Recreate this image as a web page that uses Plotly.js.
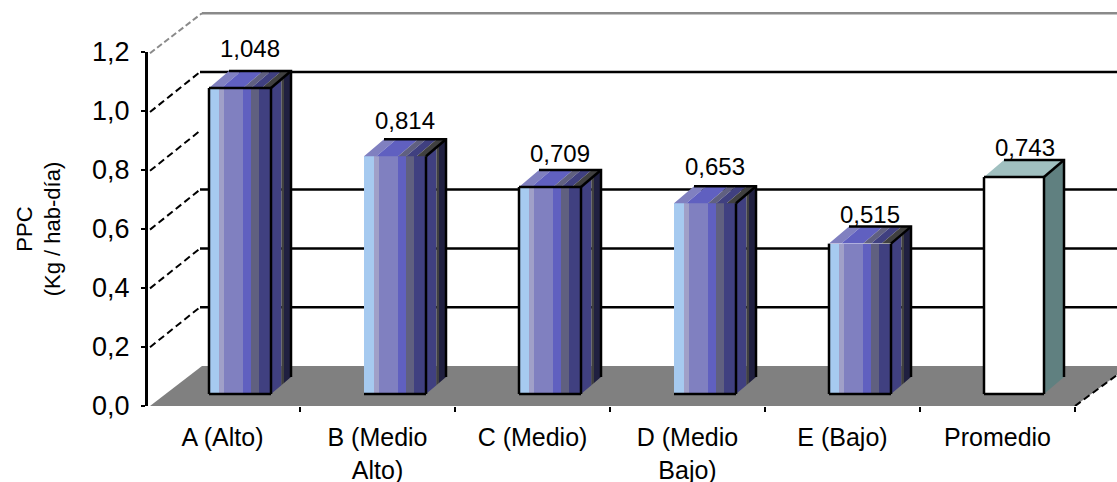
<!DOCTYPE html>
<html><head><meta charset="utf-8">
<script src="https://cdn.plot.ly/plotly-3.0.1.min.js"></script>
<style>html,body{margin:0;padding:0;background:#fff;overflow:hidden}#c{width:1117px;height:482px}</style>
</head><body><div id="c"></div>
<script>
const categories = ['A (Alto)', 'B (Medio<br>Alto)', 'C (Medio)', 'D (Medio<br>Bajo)', 'E (Bajo)', 'Promedio'];
const values = [1.048, 0.814, 0.709, 0.653, 0.515, 0.743];
const wallTicks = [0, 0.2, 0.4, 0.6, 0.8, 1.0, 1.2];
const backGrid = [0.2, 0.4, 0.6, 1.0];
const yTitle = 'PPC<br>(Kg / hab-día)';

// pixel geometry of the fake 3D projection
const W = 1117, H = 482, PLOT_B = 406, SLOT = 155, SLOT0 = 222.5;
const WALL = 294, FRONT = 292, FLOOR_LIFT = 12;
const DX = v => v / SLOT, DYW = v => v / WALL, DYF = v => v / FRONT;
const xMin = -SLOT0 / SLOT, xMax = (W - SLOT0) / SLOT;
const wallX = -0.5, backDx = DX(55), backDy = DYW(40);

const strips = [[0, .16, '#A6CAF0'], [.16, .24, '#A0A0C8'], [.24, .55, '#8080C0'], [.55, .68, '#6060C0'], [.68, .81, '#606080'], [.81, 1, '#404080']];
const topColors = ['#8080C0', '#6060C0', '#606080', '#404080', '#404040'];
const topStops = [0, .2, .55, .68, .85, 1];
const sideStripes = [[0, .52, '#404080'], [.52, .65, '#404040'], [.65, 1, '#202040']];
const leftEdge = [1, 0, 1, 0, 1, 1], topEdge = [1, 0, 1, 0, 0, 1];
const labelLift = [37, 33, 31, 34, 27, 27];
const shift = DX(17.5), sideX = DX(20), sideY = DYF(17);
const widthOf = i => DX(i === 5 ? 60 : 62);
const left = i => i + shift - widthOf(i) / 2 - (i === 5 ? DX(1) : 0);
const skip = {hoverinfo: 'skip', showlegend: false};

const traces = [];
// floor
traces.push({type: 'scatter', mode: 'lines', fill: 'toself', fillcolor: '#808080', line: {width: 0}, ...skip,
  x: [wallX + DX(5), wallX + backDx + DX(2), xMax, xMax, wallX + 6], y: [0, backDy, backDy, DYW(31), 0]});
// back wall gridlines
traces.push({type: 'scatter', mode: 'lines', line: {color: '#000', width: 2.5}, ...skip,
  x: backGrid.flatMap(v => [wallX + backDx, xMax, null]), y: backGrid.flatMap(v => [v + backDy, v + backDy, null])});
traces.push({type: 'scatter', mode: 'lines', line: {color: '#8a8a8a', width: 2.5}, ...skip,
  x: [wallX + backDx + DX(2), xMax], y: [1.2 + backDy, 1.2 + backDy]});
traces.push({type: 'scatter', mode: 'lines', line: {color: '#8a8a8a', width: 2, dash: '6px,3px'}, ...skip,
  x: [wallX + DX(5), wallX + backDx + DX(2)], y: [1.2, 1.2 + backDy]});
// wall diagonals
const diag = wallTicks.filter(v => v > 0 && v < 1.2);
traces.push({type: 'scatter', mode: 'lines', line: {color: '#000', width: 2, dash: '7px,4px'}, ...skip,
  x: diag.flatMap(v => [wallX + DX(5), wallX + backDx, null]), y: diag.flatMap(v => [v, v + backDy, null])});
traces.push({type: 'scatter', mode: 'lines', line: {color: '#000', width: 2, dash: '7px,4px'}, ...skip,
  x: [wallX + 6, xMax], y: [0, DYW(31)]});
// holders that make the boundary ticks and the wall axis appear
traces.push({type: 'scatter', mode: 'markers', xaxis: 'x2', yaxis: 'y', x: [0], y: [0], marker: {opacity: 0}, ...skip});
traces.push({type: 'scatter', mode: 'markers', xaxis: 'x', yaxis: 'y2', x: [0], y: [0], marker: {opacity: 0}, ...skip});

// front faces from real bar traces
strips.forEach(([a, b, col]) => traces.push({type: 'bar', yaxis: 'y3', ...skip,
  x: values.slice(0, 5).map((v, i) => left(i) + (a + b) / 2 * widthOf(i)),
  width: values.slice(0, 5).map((v, i) => (b - a) * widthOf(i)),
  y: values.slice(0, 5), marker: {color: col, line: {width: 0}}}));
traces.push({type: 'bar', yaxis: 'y3', ...skip, x: [left(5) + widthOf(5) / 2], width: [widthOf(5)], y: [values[5]], marker: {color: '#fff', line: {width: 0}}});

function poly(color, build) {
  const x = [], y = [];
  values.forEach((v, i) => { const p = build(v, i); if (p) { p.forEach(q => { x.push(q[0]); y.push(q[1]); }); x.push(null); y.push(null); } });
  traces.push({type: 'scatter', mode: 'lines', yaxis: 'y3', fill: 'toself', fillcolor: color, line: {width: 0}, x, y, ...skip});
}
// top faces
topColors.forEach((c, k) => poly(c, (v, i) => {
  if (i === 5) return null;
  const l = left(i), w = widthOf(i), a = l + topStops[k] * w, b = l + topStops[k + 1] * w;
  return [[a, v], [b, v], [b + sideX, v + sideY], [a + sideX, v + sideY]];
}));
poly('#A0C0C0', (v, i) => { if (i !== 5) return null; const l = left(i), w = widthOf(i);
  return [[l, v], [l + w, v], [l + w + sideX, v + sideY], [l + sideX, v + sideY]]; });
// side faces
sideStripes.forEach(([a, b, c]) => poly(c, (v, i) => {
  if (i === 5) return null;
  const r = left(i) + widthOf(i), p = r + a * sideX, q = r + b * sideX;
  return [[p, a * sideY], [q, b * sideY], [q, v + b * sideY], [p, v + a * sideY]];
}));
poly('#608080', (v, i) => { if (i !== 5) return null; const r = left(i) + widthOf(i);
  return [[r, 0], [r + sideX, sideY], [r + sideX, v + sideY], [r, v]]; });

// outlines
function outline(build, width) {
  const x = [], y = [];
  values.forEach((v, i) => build(v, i).forEach(seg => { seg.forEach(q => { x.push(q[0]); y.push(q[1]); }); x.push(null); y.push(null); }));
  traces.push({type: 'scatter', mode: 'lines', yaxis: 'y3', line: {color: '#000', width}, x, y, ...skip});
}
outline((v, i) => {
  const l = left(i), r = l + widthOf(i), segs = [[[l, 0], [r, 0]], [[r, 0], [r, v]], [[r + sideX, sideY], [r + sideX, v + sideY], [l + sideX, v + sideY]], [[r, v], [r + sideX, v + sideY]]];
  if (leftEdge[i]) segs.push([[l, 0], [l, v]]);
  if (topEdge[i]) segs.push([[l, v], [r, v]]);
  return segs;
}, 2.5);

// value labels
traces.push({type: 'scatter', mode: 'text', yaxis: 'y3', ...skip,
  x: values.map((v, i) => i + shift + DX(10)), y: values.map((v, i) => v + DYF(labelLift[i])),
  text: values.map(v => v.toFixed(3).replace('.', ',')), textposition: 'middle center', cliponaxis: false,
  textfont: {family: 'Liberation Sans', size: 24, color: '#000'}});

const font = {family: 'Liberation Sans', color: '#000'};
const layout = {
  width: W, height: H, margin: {l: 0, r: 0, t: 0, b: H - PLOT_B, pad: 0}, showlegend: false, barmode: 'overlay', bargap: 0,
  separators: ',.', paper_bgcolor: '#fff', plot_bgcolor: 'rgba(0,0,0,0)', font,
  xaxis: {range: [xMin, xMax], tickmode: 'array', tickvals: categories.map((c, i) => i), ticktext: categories, ticklen: 0, showgrid: false, zeroline: false, showline: false,
    tickfont: {family: 'Liberation Sans', size: 25, color: '#000'}, ticklabelstandoff: 14, tickangle: 0, fixedrange: true},
  xaxis2: {overlaying: 'x', matches: 'x', range: [xMin, xMax], anchor: 'y', side: 'bottom', tickmode: 'array', tickvals: [0.5, 1.5, 2.5, 3.5, 4.5, 5.5], showticklabels: false, ticks: 'outside', ticklen: 5, tickwidth: 2, tickcolor: '#000', showgrid: false, zeroline: false},
  yaxis: {range: [0, PLOT_B / WALL], visible: false, fixedrange: true},
  yaxis2: {domain: [0, 354 / PLOT_B], range: [0, 1.2], anchor: 'free', position: 146 / W, side: 'left',
    tickmode: 'array', tickvals: wallTicks, tickformat: '.1f', ticks: 'outside', ticklen: 4, tickwidth: 2, tickcolor: '#000', showline: true, linecolor: '#000', linewidth: 2.5, showgrid: false, zeroline: false,
    tickfont: {family: 'Liberation Sans', size: 27, color: '#000'}, ticklabelstandoff: 6,
    title: {text: yTitle, standoff: 24, font: {family: 'Liberation Sans', size: 22, color: '#000'}}},
  yaxis3: {overlaying: 'y', range: [-DYF(FLOOR_LIFT), (PLOT_B - FLOOR_LIFT) / FRONT], visible: false, fixedrange: true}
};
Plotly.newPlot('c', traces, layout, {staticPlot: true, displayModeBar: false});
</script></body></html>
